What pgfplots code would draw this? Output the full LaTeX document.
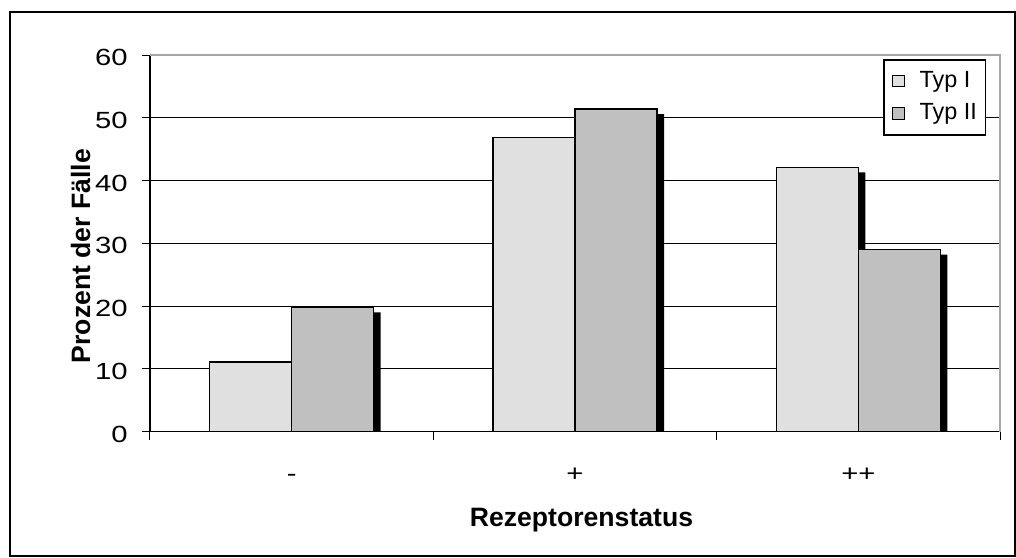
\documentclass[border=0pt]{standalone}
\usepackage{graphicx}
\usepackage{pgfplots}
\pgfplotsset{compat=1.18}
\usepackage{pgfplotstable}
\usepackage{fontspec}
\setmainfont{Liberation Sans}
\definecolor{cI}{RGB}{224,224,224}
\definecolor{cII}{RGB}{192,192,192}
\newcommand{\wide}[1]{\scalebox{1.25}[1]{#1}}
\pgfplotstableread{
x typI typII
0 11.1 19.8
1 46.9 51.4
2 42.1 29.0
}\data
\begin{document}
\begin{tikzpicture}
\useasboundingbox (-75pt,-62.65pt) rectangle (433pt,215.85pt);
\draw[line width=1pt] (-70pt,-61.9pt) rectangle (432.25pt,210pt);
\begin{axis}[
  name=ax,
  at={(0,0)}, anchor=south west, scale only axis,
  width=425pt, height=188.35pt,
  xmin=-0.5, xmax=2.5, ymin=0, ymax=60,
  axis x line*=bottom, axis y line*=left,
  axis line style={black, line width=0.75pt},
  xtick={-0.5,0.5,1.5,2.5}, xticklabels={},
  extra x ticks={0,1,2}, extra x tick labels={\wide{-},\wide{+},\wide{++}},
  extra x tick style={major tick length=0pt, xmajorgrids=false,
     xticklabel style={anchor=base, yshift=-24.7pt}},
  ytick={0,10,...,60},
  yticklabel={\wide{\pgfmathprintnumber{\tick}}},
  ymajorgrids, major grid style={black, line width=0.5pt},
  tick align=outside, major tick length=4pt,
  tick style={black, line width=0.5pt},
  /pgf/number format/assume math mode=true,
  tick label style={font=\fontsize{11.7}{14}\selectfont},
  yticklabel style={anchor=east, inner sep=0pt, xshift=-7pt, yshift=-1.2pt},
  label style={font=\bfseries\fontsize{13.3}{16}\selectfont},
  xlabel={Rezeptorenstatus},
  xlabel style={at={(axis description cs:0.5,0)}, anchor=base, yshift=-47.5pt, xshift=3.25pt},
  ylabel={Prozent der Fälle},
  ylabel style={at={(axis description cs:-0.0815,0.4664)}, anchor=center},
  legend image code/.code={\draw[#1, line width=0.5pt] (0pt,-2.9pt) rectangle (5.8pt,2.9pt);},
  legend cell align=left,
  legend style={at={(rel axis cs:0.8627,0.9894)}, anchor=north west,
     draw=black, line width=0.75pt, fill=white,
     inner xsep=4.2pt, inner ysep=5.9pt, row sep=6.6pt,
     nodes={inner sep=0pt},
     /tikz/every odd column/.append style={column sep=7.3pt},
     font=\fontsize{11.7}{14}\selectfont},
]
\addplot[ybar, bar width=41pt, bar shift=-17pt, fill=black, draw=none, yshift=-2.5pt, forget plot]
  table[x=x, y=typI]{\data};
\addplot[ybar, bar width=41pt, bar shift=-20.5pt, fill=cI, draw=black, line width=0.7pt]
  table[x=x, y=typI]{\data};
\addlegendentry{Typ I}
\addplot[ybar, bar width=41pt, bar shift=24pt, fill=black, draw=none, yshift=-2.5pt, forget plot]
  table[x=x, y=typII]{\data};
\addplot[ybar, bar width=41pt, bar shift=20.5pt, fill=cII, draw=black, line width=0.7pt]
  table[x=x, y=typII]{\data};
\addlegendentry{Typ II}
\end{axis}
\draw[gray!70, line width=0.75pt] (ax.north west) -- (ax.north east) -- (ax.south east);
\end{tikzpicture}
\end{document}
